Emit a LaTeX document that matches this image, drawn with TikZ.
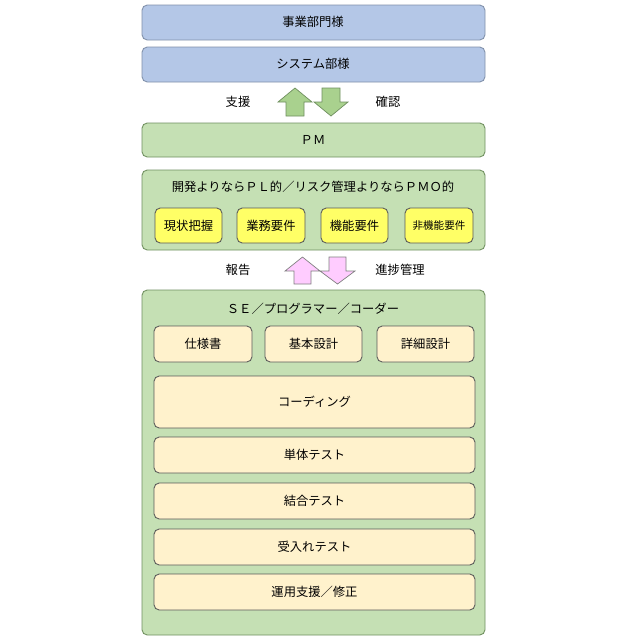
\documentclass[tikz,border=0pt]{standalone}
\usepackage{fontspec}
\setmainfont{Noto Sans CJK JP}
\usetikzlibrary{positioning}
\definecolor{bluebox}{HTML}{B4C7E7}
\definecolor{blueline}{HTML}{7F8FA9}
\definecolor{greenbox}{HTML}{C5E0B4}
\definecolor{greenline}{HTML}{6F8F5F}
\definecolor{yellowbox}{HTML}{FFFF66}
\definecolor{creambox}{HTML}{FFF2CC}
\definecolor{arrowgreen}{HTML}{A9D18E}
\definecolor{arrowpink}{HTML}{FFCCFF}
\tikzset{
  box/.style={draw, rounded corners=3pt, line width=0.5pt, inner sep=0pt},
  upper/.style={box, fill=bluebox, draw=blueline},
  group/.style={box, fill=greenbox, draw=greenline},
  task/.style={box, fill=yellowbox, draw=gray!70!black},
  work/.style={box, fill=creambox, draw=gray!70!black},
  lbl/.style={font=\fontsize{7}{8}\selectfont}
}
\begin{document}
\begin{tikzpicture}[x=0.02cm,y=-0.02cm]
\useasboundingbox (0,0) rectangle (640,640);

% Top boxes
\draw[upper] (142,5) rectangle (485,40);
\node[lbl] (jigyo) at (313,22) {事業部門様};
\draw[upper] (142,47) rectangle (485,82);
\node[lbl] (system) at (313,64) {システム部様};

% Green arrows
\draw[fill=arrowgreen, draw=greenline] (278,102) -- (295,88) -- (312,102) -- (304,102) -- (304,116) -- (286,116) -- (286,102) -- cycle;
\draw[fill=arrowgreen, draw=greenline] (322,88) -- (340,88) -- (340,102) -- (348,102) -- (331,116) -- (314,102) -- (322,102) -- cycle;
\node[lbl] (shien) at (238,102) {支援};
\node[lbl] (kakunin) at (388,102) {確認};

% PM
\draw[group] (142,123) rectangle (485,157);
\node[lbl] (pm) at (313,140) {ＰＭ};

% PL / PMO
\draw[group] (142,170) rectangle (485,250);
\node[lbl] (pl) at (313,187) {開発よりならＰＬ的／リスク管理よりならＰＭＯ的};
\foreach \xa/\xb/\t in {155/222/現状把握, 237/305/業務要件, 321/388/機能要件, 405/473/{\fontsize{6}{7}\selectfont 非機能要件}} {
  \draw[task] (\xa,208) rectangle (\xb,243);
  \node[lbl] at ({(\xa+\xb)/2},225.5) {\t};
}

% Pink arrows
\draw[fill=arrowpink, draw=gray] (285,271) -- (302.5,257) -- (320,271) -- (311,271) -- (311,284) -- (294,284) -- (294,271) -- cycle;
\draw[fill=arrowpink, draw=gray] (329,257) -- (346,257) -- (346,271) -- (355,271) -- (337.5,284) -- (320,271) -- (329,271) -- cycle;
\node[lbl] (hokoku) at (238,270) {報告};
\node[lbl] (shinchoku) at (400,270) {進捗管理};

% SE group
\draw[group] (142,290) rectangle (485,635);
\node[lbl] (se) at (313,309) {ＳＥ／プログラマー／コーダー};
\foreach \xa/\xb/\t in {154/252/仕様書, 265/362/基本設計, 377/474/詳細設計} {
  \draw[work] (\xa,326) rectangle (\xb,362);
  \node[lbl] at ({(\xa+\xb)/2},344) {\t};
}
\foreach \ya/\yb/\t in {376/428/コーディング, 437/473/単体テスト, 483/519/結合テスト, 529/565/受入れテスト, 574/610/運用支援／修正} {
  \draw[work] (154,\ya) rectangle (475,\yb);
  \node[lbl] at (314.5,{(\ya+\yb)/2}) {\t};
}
\end{tikzpicture}
\end{document}
